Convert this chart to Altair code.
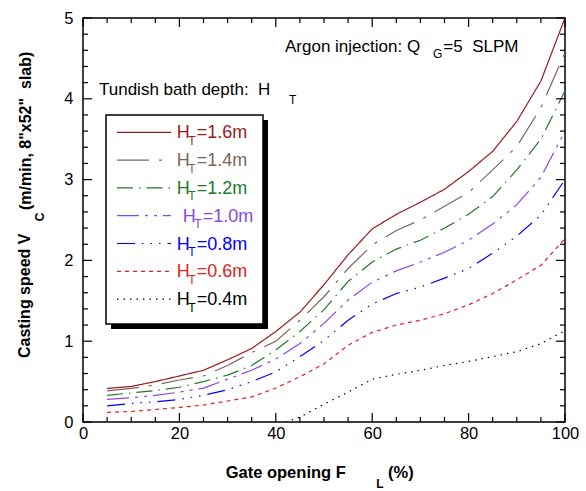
import altair as alt
import pandas as pd

# ---------------- data ----------------
gate = [5, 10, 15, 20, 25, 30, 35, 40, 45, 50, 55, 60, 65, 70, 75, 80, 85, 90, 95, 100]
v_16 = [0.415, 0.44, 0.50, 0.57, 0.64, 0.77, 0.91, 1.12, 1.36, 1.70, 2.07, 2.39, 2.57, 2.72, 2.88, 3.10, 3.35, 3.72, 4.22, 5.00]
v_14 = [0.385, 0.415, 0.46, 0.52, 0.57, 0.70, 0.86, 1.00, 1.26, 1.55, 1.90, 2.19, 2.37, 2.50, 2.67, 2.84, 3.12, 3.41, 3.89, 4.57]
v_12 = [0.33, 0.36, 0.39, 0.43, 0.50, 0.58, 0.70, 0.89, 1.12, 1.39, 1.74, 1.98, 2.14, 2.25, 2.40, 2.57, 2.79, 3.12, 3.50, 4.10]
v_10 = [0.28, 0.30, 0.33, 0.37, 0.42, 0.53, 0.64, 0.78, 0.97, 1.22, 1.51, 1.73, 1.87, 1.98, 2.10, 2.25, 2.45, 2.69, 3.03, 3.60]
v_08 = [0.20, 0.23, 0.25, 0.28, 0.33, 0.40, 0.50, 0.62, 0.81, 1.01, 1.26, 1.46, 1.59, 1.67, 1.78, 1.90, 2.09, 2.30, 2.56, 3.00]
v_06 = [0.12, 0.13, 0.155, 0.18, 0.21, 0.26, 0.31, 0.42, 0.56, 0.72, 0.95, 1.11, 1.20, 1.26, 1.34, 1.45, 1.59, 1.76, 1.94, 2.27]
gate_04 = [42, 45, 50, 55, 60, 65, 70, 75, 80, 85, 90, 95, 100]
v_04 = [0.0, 0.06, 0.22, 0.37, 0.53, 0.59, 0.64, 0.70, 0.75, 0.81, 0.87, 0.97, 1.13]

depths = ["1.6", "1.4", "1.2", "1.0", "0.8", "0.6", "0.4"]
x_major = [0, 20, 40, 60, 80, 100]
y_major = [0, 1, 2, 3, 4, 5]

# ---------------- styles ----------------
colors = ["#9B1B1B", "#7A6561", "#22782A", "#8844EE", "#0000FF", "#DD2222", "#000000"]
dashes = [[1, 0], [32, 10, 3, 10], [16, 6, 1.5, 6], [22, 6, 3, 6, 3, 6],
          [18, 7, 1.5, 7, 1.5, 7, 1.5, 7], [4, 4], [1.5, 5]]

series_x = [gate, gate, gate, gate, gate, gate, gate_04]
series_v = [v_16, v_14, v_12, v_10, v_08, v_06, v_04]
rows = []
for d, xs, vs in zip(depths, series_x, series_v):
    for xv, vv in zip(xs, vs):
        rows.append({"depth": d, "gate": xv, "speed": vv})
df = pd.DataFrame(rows)

W, H = 482, 404
FONT = "Liberation Sans"
NB = "\u00a0"
dummy = pd.DataFrame({"k": [0]})

x_minor = [v for v in range(5, 100, 5) if v % 20]
y_minor = [round(i * 0.2, 1) for i in range(1, 25) if i % 5]

lines = alt.Chart(df).mark_line(strokeWidth=1.2, clip=True).encode(
    x=alt.X("gate:Q", scale=alt.Scale(domain=[0, 100], nice=False, zero=False),
            axis=alt.Axis(values=x_major, format="d", title=None, ticks=False, domain=False, grid=False,
                          labelFontSize=16.5, labelFont=FONT, labelColor="black",
                          labelPadding=3, labelFlush=False)),
    y=alt.Y("speed:Q", scale=alt.Scale(domain=[0, 5], nice=False, zero=False),
            axis=alt.Axis(values=y_major, format="d", title=None, ticks=False, domain=False, grid=False,
                          labelFontSize=16.5, labelFont=FONT, labelColor="black",
                          labelPadding=10, labelFlush=False)),
    color=alt.Color("depth:N", scale=alt.Scale(domain=depths, range=colors), legend=None),
    strokeDash=alt.StrokeDash("depth:N", scale=alt.Scale(domain=depths, range=dashes), legend=None),
    order=alt.Order("gate:Q"),
)

layers = [lines]

# inward ticks on all four sides
def xticks(vals, length):
    d = pd.DataFrame({"t": vals})
    b = alt.Chart(d).mark_rule(color="black", strokeWidth=1.2).encode(
        x="t:Q", y=alt.value(H), y2=alt.value(H - length))
    t = alt.Chart(d).mark_rule(color="black", strokeWidth=1.2).encode(
        x="t:Q", y=alt.value(0), y2=alt.value(length))
    return [b, t]

def yticks(vals, length):
    d = pd.DataFrame({"t": vals})
    l = alt.Chart(d).mark_rule(color="black", strokeWidth=1.2).encode(
        y="t:Q", x=alt.value(0), x2=alt.value(length))
    r = alt.Chart(d).mark_rule(color="black", strokeWidth=1.2).encode(
        y="t:Q", x=alt.value(W), x2=alt.value(W - length))
    return [l, r]

layers += xticks(x_major, 9) + xticks(x_minor, 5) + yticks(y_major, 9) + yticks(y_minor, 5)


def text(x, y, s, size, bold=False, angle=0, align="left", baseline="alphabetic", color="black"):
    kw = dict(text=s, fontSize=size, font=FONT, fontWeight="bold" if bold else "normal",
              align=align, baseline=baseline, color=color)
    if angle:
        kw["angle"] = angle
    return alt.Chart(dummy).mark_text(**kw).encode(x=alt.value(x), y=alt.value(y))


# legend box with shadow
lx0, lx1, ly0, ly1 = 23, 180, 97, 306
layers.append(alt.Chart(dummy).mark_rect(color="black").encode(
    x=alt.value(lx0 + 5), x2=alt.value(lx1 + 5), y=alt.value(ly0 + 5), y2=alt.value(ly1 + 5)))
layers.append(alt.Chart(dummy).mark_rect(fill="white", stroke="black", strokeWidth=1.5).encode(
    x=alt.value(lx0), x2=alt.value(lx1), y=alt.value(ly0), y2=alt.value(ly1)))

row0, step = 114.3, 27.8
for i, (d, c, dash) in enumerate(zip(depths, colors, dashes)):
    ry = row0 + i * step
    shift = 6 if d == "1.0" else 0
    layers.append(alt.Chart(dummy).mark_rule(color=c, strokeDash=dash, strokeWidth=1.2).encode(
        x=alt.value(34), x2=alt.value(88), y=alt.value(ry)))
    layers.append(text(93.7 + shift, ry + 6, "H", 18, color=c))
    layers.append(text(109 + shift, ry + 12.5, "T", 12, color=c, align="center"))
    layers.append(text(113.7 + shift, ry + 6, "=" + d + "m", 18, color=c))

# annotations
layers.append(text(202, 33.7, "Argon injection: Q", 17))
layers.append(text(354.7, 39.5, "G", 12, align="center"))
layers.append(text(360.3, 33.7, "=5" + NB + NB + "SLPM", 17))
layers.append(text(16, 77, "Tundish bath depth:" + NB + NB + "H", 17))
layers.append(text(209.7, 86, "T", 12, align="center"))

# axis titles
layers.append(text(142.7, 459.5, "Gate opening F", 16.5, bold=True))
layers.append(text(297, 470, "L", 12, bold=True, align="center"))
layers.append(text(305, 459.5, "(%)", 16.5, bold=True))

layers.append(text(-58, 340, "Casting speed V", 16, bold=True, angle=270, baseline="middle"))
layers.append(text(-43, 199, "C", 12, bold=True, angle=270, align="center", baseline="middle"))
layers.append(text(-57, 192, "(m/min," + NB + "8\"x52\"" + NB + NB + "slab)", 16, bold=True,
                   angle=270, baseline="middle"))

chart = alt.layer(*layers).properties(
    width=W, height=H,
    autosize=alt.AutoSizeParams(type="none"),
    padding={"left": 83, "top": 18, "right": 21, "bottom": 69},
).configure_view(stroke="black", strokeWidth=1.5)

chart.save("out.html", embed_options={"renderer": "svg", "actions": False})
